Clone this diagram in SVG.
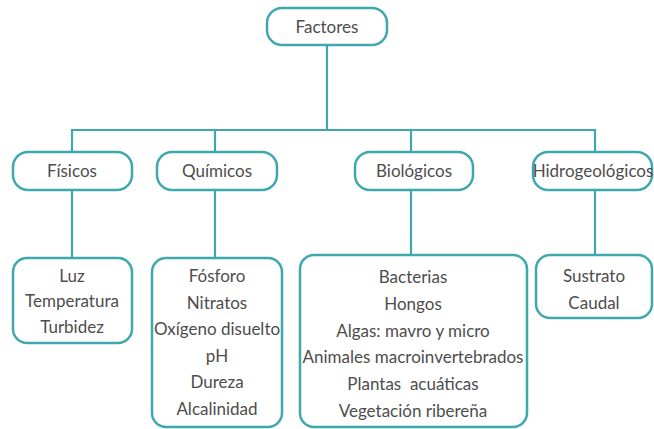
<svg xmlns="http://www.w3.org/2000/svg" width="654" height="429" viewBox="0 0 654 429">
  <style>
    .box { fill: #ffffff; stroke: #3ea8ad; stroke-width: 2.5; }
    .wire { fill: none; stroke: #3ea8ad; stroke-width: 2.2; }
    text { font-family: Lato, "Open Sans", "DejaVu Sans", sans-serif; font-size: 17px; fill: #4d4d4d; text-anchor: middle; }
  </style>
  <rect width="654" height="429" fill="#ffffff"/>

  <!-- connectors -->
  <g id="connectors">
    <path class="wire" d="M327 45 V130 M72 152 V130 H595 V152 M215 130 V152 M411 130 V152"/>
    <path class="wire" d="M72 190 V258 M215 190 V258 M411 190 V255 M595 190 V255"/>
  </g>

  <!-- root -->
  <g id="factores">
    <rect class="box" x="267" y="8" width="120" height="37" rx="15"/>
    <text x="327" y="33">Factores</text>
  </g>

  <!-- categories -->
  <g id="fisicos">
    <rect class="box" x="13" y="152" width="119" height="38" rx="15"/>
    <text x="72" y="177">Físicos</text>
  </g>
  <g id="quimicos">
    <rect class="box" x="157" y="152" width="120" height="38" rx="15"/>
    <text x="217" y="177">Químicos</text>
  </g>
  <g id="biologicos">
    <rect class="box" x="355" y="152" width="118" height="38" rx="15"/>
    <text x="414" y="177">Biológicos</text>
  </g>
  <g id="hidrogeologicos">
    <rect class="box" x="533" y="152" width="119" height="38" rx="15"/>
    <text x="593" y="177">Hidrogeológicos</text>
  </g>

  <!-- factor lists -->
  <g id="lista-fisicos">
    <rect class="box" x="13" y="258" width="119" height="85" rx="14"/>
    <text x="72" y="282">Luz</text>
    <text x="72" y="307">Temperatura</text>
    <text x="72" y="333">Turbidez</text>
  </g>
  <g id="lista-quimicos">
    <rect class="box" x="152" y="258" width="130" height="169" rx="14"/>
    <text x="217" y="282">Fósforo</text>
    <text x="217" y="309">Nitratos</text>
    <text x="217" y="335">Oxígeno disuelto</text>
    <text x="217" y="362">pH</text>
    <text x="217" y="388">Dureza</text>
    <text x="217" y="415">Alcalinidad</text>
  </g>
  <g id="lista-biologicos">
    <rect class="box" x="300" y="255" width="227" height="172" rx="14"/>
    <text x="413" y="283">Bacterias</text>
    <text x="413" y="310">Hongos</text>
    <text x="413" y="337">Algas: mavro y micro</text>
    <text x="413" y="363">Animales macroinvertebrados</text>
    <text x="413" y="390">Plantas&#160; acuáticas</text>
    <text x="413" y="417">Vegetación ribereña</text>
  </g>
  <g id="lista-hidrogeologicos">
    <rect class="box" x="536" y="255" width="116" height="63" rx="14"/>
    <text x="594" y="282">Sustrato</text>
    <text x="594" y="309">Caudal</text>
  </g>
</svg>
